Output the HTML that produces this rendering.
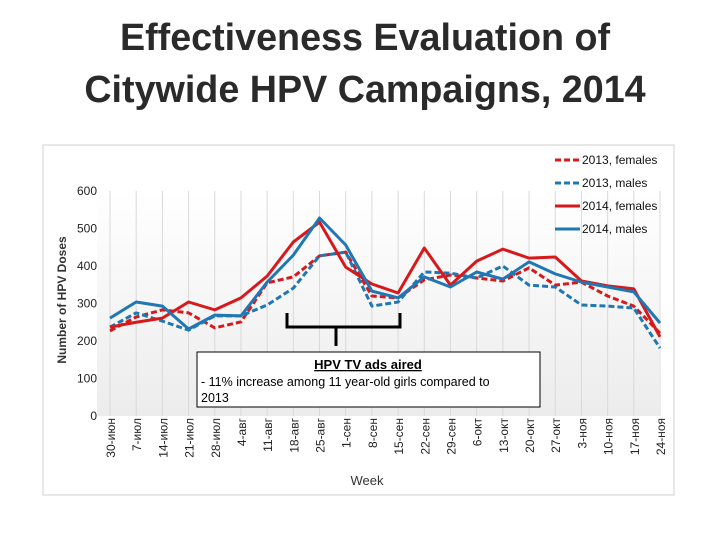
<!DOCTYPE html>
<html><head><meta charset="utf-8"><style>
body{margin:0;width:720px;height:540px;background:#fff;overflow:hidden;font-family:"Liberation Sans",sans-serif}
.t{position:absolute;left:5px;width:720px;text-align:center;font-weight:bold;font-size:37.7px;color:#2a2a2a}
</style></head><body>
<div class="t" style="top:11px;line-height:52px">Effectiveness Evaluation of<br>Citywide HPV Campaigns, 2014</div>
<svg id="c" width="720" height="540" style="position:absolute;left:0;top:0">
<defs><linearGradient id="g" x1="0" y1="0" x2="0" y2="1"><stop offset="0" stop-color="#fff"/><stop offset="1" stop-color="#ececec"/></linearGradient></defs>
<rect x="43" y="145" width="631" height="350" fill="none" stroke="#d0d0d0"/>
<rect x="97" y="191" width="562" height="225" fill="url(#g)"/>
<g id="grid"></g><g id="ticks"></g><g id="lines"></g>
<text transform="translate(66,300) rotate(-90)" text-anchor="middle" font-size="12" font-weight="bold" fill="#333">Number of HPV Doses</text>
<text x="367" y="485" text-anchor="middle" font-size="13" fill="#333">Week</text>
<path d="M287,313 L287,327 L400,327 L400,313 M336,327 L336,346" fill="none" stroke="#000" stroke-width="3"/>
<rect x="197" y="352" width="343" height="55" fill="#fff" stroke="#000"/>
<text x="368" y="369" text-anchor="middle" font-size="13" font-weight="bold" text-decoration="underline">HPV TV ads aired</text>
<text x="201" y="386" font-size="12.5">- 11% increase among 11 year-old girls compared to</text>
<text x="201" y="402" font-size="12.5">2013</text>
<g id="legend"></g>
</svg>
<script>
const categories=["30-июн","7-июл","14-июл","21-июл","28-июл","4-авг","11-авг","18-авг","25-авг","1-сен","8-сен","15-сен","22-сен","29-сен","6-окт","13-окт","20-окт","27-окт","3-ноя","10-ноя","17-ноя","24-ноя"];
const yTicks=[0,100,200,300,400,500,600];
const f2013=[227,264,283,275,235,251,355,371,427,437,320,315,363,376,368,360,395,349,357,320,293,221];
const m2013=[237,275,253,229,267,267,296,341,427,437,293,304,384,381,368,400,349,344,296,293,288,181];
const f2014=[237,250,261,304,283,315,373,464,517,397,352,328,448,349,413,445,421,424,360,347,339,211];
const m2014=[261,304,293,232,269,267,357,429,528,456,333,315,371,344,384,365,411,379,357,344,331,248];
const NS="http://www.w3.org/2000/svg";
const n=categories.length;
const x=i=>110+i*(660-110)/(n-1);
const y=v=>416-v*0.375;
function mk(t,a,p){const e=document.createElementNS(NS,t);for(const k in a)e.setAttribute(k,a[k]);p.appendChild(e);return e;}
const grid=document.getElementById('grid'),ticks=document.getElementById('ticks'),lines=document.getElementById('lines'),leg=document.getElementById('legend');
categories.forEach((c,i)=>{
 const l=mk('line',{x1:x(i),x2:x(i),y1:191,y2:416,stroke:'#d9d9d9'},grid);
 
 
 const t=mk('text',{transform:`translate(${x(i)+5},418) rotate(-90)`,'text-anchor':'end','font-size':12,fill:'#222'},ticks);
 t.textContent=c;
 
 
});
yTicks.forEach(v=>{
 const t=mk('text',{x:97,y:y(v)+4,'text-anchor':'end','font-size':12,fill:'#222'},ticks);
 t.textContent=v;
 
 
});
const series=[
 {name:'2013, females',d:f2013,c:'#d7191c',dash:'6,3'},
 {name:'2013, males',d:m2013,c:'#1f77b4',dash:'6,3'},
 {name:'2014, females',d:f2014,c:'#d7191c',dash:''},
 {name:'2014, males',d:m2014,c:'#1f77b4',dash:''}];
series.forEach((s,k)=>{
 const p=mk('polyline',{points:s.d.map((v,i)=>x(i)+','+y(v)).join(' '),fill:'none',stroke:s.c,'stroke-width':3,'stroke-dasharray':s.dash,'stroke-linejoin':'round'},lines);
 
 
 const ly=160+k*23;
 const g=mk('g',{},leg);
 
 
 mk('line',{x1:555,x2:580,y1:ly,y2:ly,stroke:s.c,'stroke-width':3,'stroke-dasharray':s.dash},g);
 const t=mk('text',{x:582,y:ly+4,'font-size':12,fill:'#111'},g);t.textContent=s.name;
});
</script>
</body></html>
